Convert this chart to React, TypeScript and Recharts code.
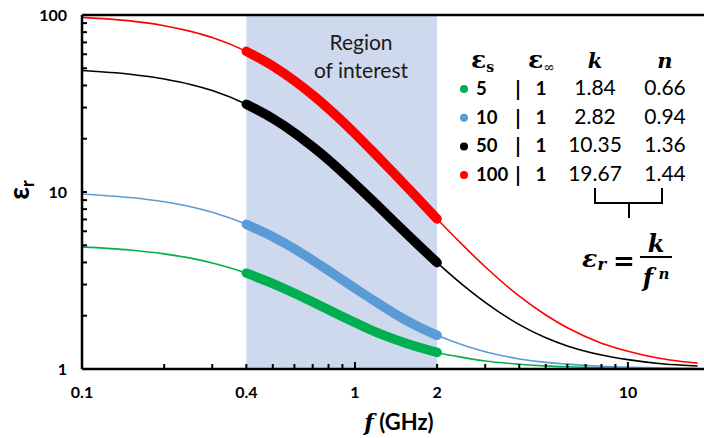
import React from 'react';
import { ComposedChart, Line, XAxis, YAxis, ReferenceArea, ReferenceLine } from 'recharts';

// frequency samples (GHz) and relative permittivity
const freqGHz = [0.1, 0.15, 0.2, 0.25, 0.3, 0.4, 0.5, 0.6, 0.7, 0.8, 1, 1.2, 1.4, 1.7, 2, 2.5, 3, 4, 5, 6, 8, 10, 13, 16, 18];
const epsS100 = [97.0, 92.6, 87.0, 80.8, 74.6, 62.3, 51.5, 42.5, 35.3, 29.6, 21.4, 16.1, 12.6, 9.18, 7.04, 4.96, 3.78, 2.58, 2.02, 1.71, 1.4, 1.26, 1.15, 1.1, 1.08];
const epsS50 = [48.6, 46.3, 43.5, 40.5, 37.4, 31.3, 26.0, 21.6, 18.0, 15.2, 11.1, 8.5, 6.74, 5.05, 3.99, 2.96, 2.38, 1.78, 1.5, 1.35, 1.2, 1.13, 1.075, 1.05, 1.04];
const epsS10 = [9.75, 9.3, 8.8, 8.26, 7.69, 6.57, 5.59, 4.78, 4.12, 3.6, 2.86, 2.38, 2.05, 1.74, 1.55, 1.36, 1.25, 1.14, 1.09, 1.065, 1.036, 1.023, 1.014, 1.009, 1.007];
const epsS5 = [4.9, 4.7, 4.47, 4.23, 3.97, 3.48, 3.04, 2.68, 2.39, 2.16, 1.83, 1.61, 1.47, 1.33, 1.24, 1.16, 1.11, 1.064, 1.041, 1.029, 1.016, 1.01, 1.006, 1.004, 1.003];

const regionStart = 0.4;
const regionEnd = 2;

const xTicks = [0.1, 0.2, 0.3, 0.4, 0.5, 0.6, 0.7, 0.8, 0.9, 1, 2, 3, 4, 5, 6, 7, 8, 9, 10];
const xLabelTicks = [0.1, 0.4, 1, 2, 10];
const yTicks = [1, 2, 3, 4, 5, 6, 7, 8, 9, 10, 20, 30, 40, 50, 60, 70, 80, 90, 100];
const yLabelTicks = [1, 10, 100];

// table rows
const tableEpsS = ['5', '10', '50', '100'];
const tableK = ['1.84', '2.82', '10.35', '19.67'];
const tableN = ['0.66', '0.94', '1.36', '1.44'];

const COLORS = { s5: '#00b050', s10: '#5b9bd5', s50: '#000000', s100: '#ff0000' };
const rowColors = [COLORS.s5, COLORS.s10, COLORS.s50, COLORS.s100];

const inRegion = (f: number) => f >= regionStart && f <= regionEnd;

const chartData = freqGHz.map((f, i) => ({
  f,
  s100: epsS100[i],
  s50: epsS50[i],
  s10: epsS10[i],
  s5: epsS5[i],
  s100r: inRegion(f) ? epsS100[i] : null,
  s50r: inRegion(f) ? epsS50[i] : null,
  s10r: inRegion(f) ? epsS10[i] : null,
  s5r: inRegion(f) ? epsS5[i] : null,
}));

const FONT = 'Lato, "Open Sans", sans-serif';
const SERIF = '"DejaVu Serif", "Liberation Serif", serif';
const sans = { fontFamily: FONT };
const serif = { fontFamily: SERIF };

const XTick = (props: any) => {
  const { x, y, payload } = props;
  const v = payload.value;
  const major = v === 1 || v === 10;
  return (
    <g>
      <line x1={x} x2={x} y1={y} y2={y - (major ? 7 : 5)} stroke="#000" strokeWidth={2} />
      {xLabelTicks.includes(v) && (
        <text x={x} y={y + 29} textAnchor="middle" style={sans} fontWeight={700} fontSize={16} fill="#000">
          {String(v)}
        </text>
      )}
    </g>
  );
};

const YTick = (props: any) => {
  const { x, y, payload } = props;
  const v = payload.value;
  return (
    <g>
      <line x1={x} x2={x + 5} y1={y} y2={y} stroke="#000" strokeWidth={2} />
      {yLabelTicks.includes(v) && (
        <text x={x - 15} y={y} dy="0.35em" textAnchor="end" style={sans} fontWeight={700} fontSize={16} fill="#000">
          {String(v)}
        </text>
      )}
    </g>
  );
};

const seriesKeys: Array<keyof typeof COLORS> = ['s5', 's10', 's50', 's100'];

const Annotations = () => (
  <svg width={704} height={438} style={{ position: 'absolute', left: 0, top: 0, pointerEvents: 'none' }}>
    {/* y axis title */}
    <text transform="translate(29,190) rotate(-90)" textAnchor="middle" style={sans} fontWeight={700} fontSize={28} fill="#000">
      ε<tspan fontSize={18} dy={5}>r</tspan>
    </text>
    {/* x axis title */}
    <text x={399} y={430} textAnchor="middle" style={sans} fontWeight={700} fontSize={22} fill="#000">
      <tspan style={serif} fontStyle="italic">f</tspan> (GHz)
    </text>
    {/* region label */}
    <text x={361} y={50} textAnchor="middle" style={sans} fontSize={21} fill="#1a1a1a">Region</text>
    <text x={361} y={78} textAnchor="middle" style={sans} fontSize={21} fill="#1a1a1a">of interest</text>
    {/* table headers */}
    <text x={471} y={68} style={serif} fontWeight={700} fontSize={25} fill="#000">
      ε<tspan fontSize={14} dy={4}>s</tspan>
    </text>
    <text x={528} y={68} style={serif} fontWeight={700} fontSize={25} fill="#000">
      ε<tspan fontSize={14} dy={4} fontWeight={400}>∞</tspan>
    </text>
    <text x={595} y={68} textAnchor="middle" style={serif} fontStyle="italic" fontWeight={700} fontSize={21} fill="#000">k</text>
    <text x={665} y={68} textAnchor="middle" style={serif} fontStyle="italic" fontWeight={700} fontSize={21} fill="#000">n</text>
    {tableEpsS.map((s, i) => {
      const base = 95 + i * 28.7;
      return (
        <g key={s}>
          <circle cx={464} cy={base - 6} r={4} fill={rowColors[i]} />
          <text x={476} y={base} style={sans} fontWeight={700} fontSize={18.5} fill="#000">{s}</text>
          <text x={518} y={base + 1} textAnchor="middle" style={sans} fontWeight={700} fontSize={21} fill="#000">|</text>
          <text x={541} y={base} textAnchor="middle" style={sans} fontWeight={700} fontSize={19} fill="#000">1</text>
          <text x={595} y={base} textAnchor="middle" style={sans} fontSize={21} fill="#000">{tableK[i]}</text>
          <text x={665} y={base} textAnchor="middle" style={sans} fontSize={21} fill="#000">{tableN[i]}</text>
        </g>
      );
    })}
    {/* bracket */}
    <path d="M595,188 L595,203 L662,203 L662,188 M629,203 L629,218" stroke="#000" strokeWidth={2} fill="none" />
    {/* formula */}
    <text x={582} y={267} style={serif} fontStyle="italic" fontWeight={700} fontSize={25} fill="#000">
      ε<tspan fontSize={17} dy={3}>r</tspan>
    </text>
    <text x={624} y={270} textAnchor="middle" style={serif} fontWeight={700} fontSize={26} fill="#000">=</text>
    <line x1={640} x2={672} y1={257} y2={257} stroke="#000" strokeWidth={2} />
    <text x={656} y={252} textAnchor="middle" style={serif} fontStyle="italic" fontWeight={700} fontSize={24} fill="#000">k</text>
    <text x={648} y={286} textAnchor="middle" style={serif} fontStyle="italic" fontWeight={700} fontSize={24} fill="#000">f</text>
    <text x={664} y={279} textAnchor="middle" style={serif} fontStyle="italic" fontWeight={700} fontSize={15} fill="#000">n</text>
  </svg>
);

const App: React.FC = () => {
  return (
    <div style={{ position: 'absolute', left: 0, top: 0, width: 704, height: 438, background: '#fff' }}>
      <ComposedChart width={704} height={438} data={chartData} margin={{ top: 15, right: 0, left: 0, bottom: 0 }}>
        <ReferenceArea x1={regionStart} x2={regionEnd} y1={1} y2={100} fill="#cfd9ee" fillOpacity={1} stroke="none" />
        <ReferenceLine y={100} stroke="#000" strokeWidth={2.5} />
        <XAxis
          dataKey="f"
          type="number"
          scale="log"
          domain={[0.1, 19]}
          ticks={xTicks}
          interval={0}
          allowDataOverflow
          axisLine={{ stroke: '#000', strokeWidth: 2.5 }}
          tickLine={false}
          tickSize={0}
          tickMargin={0}
          tick={<XTick />}
          height={69}
        />
        <YAxis
          type="number"
          scale="log"
          domain={[1, 100]}
          ticks={yTicks}
          interval={0}
          allowDataOverflow
          axisLine={{ stroke: '#000', strokeWidth: 2.5 }}
          tickLine={false}
          tickSize={0}
          tickMargin={0}
          tick={<YTick />}
          width={82}
        />
        {seriesKeys.map((k) => (
          <Line
            key={k}
            dataKey={k}
            type="monotone"
            stroke={COLORS[k]}
            strokeWidth={1.6}
            dot={false}
            activeDot={false}
            isAnimationActive={false}
          />
        ))}
        {seriesKeys.map((k) => (
          <Line
            key={k + 'r'}
            dataKey={k + 'r'}
            type="monotone"
            stroke={COLORS[k]}
            strokeWidth={9.5}
            strokeLinecap="round"
            dot={false}
            activeDot={false}
            isAnimationActive={false}
          />
        ))}
      </ComposedChart>
      <Annotations />
    </div>
  );
};

export default App;
